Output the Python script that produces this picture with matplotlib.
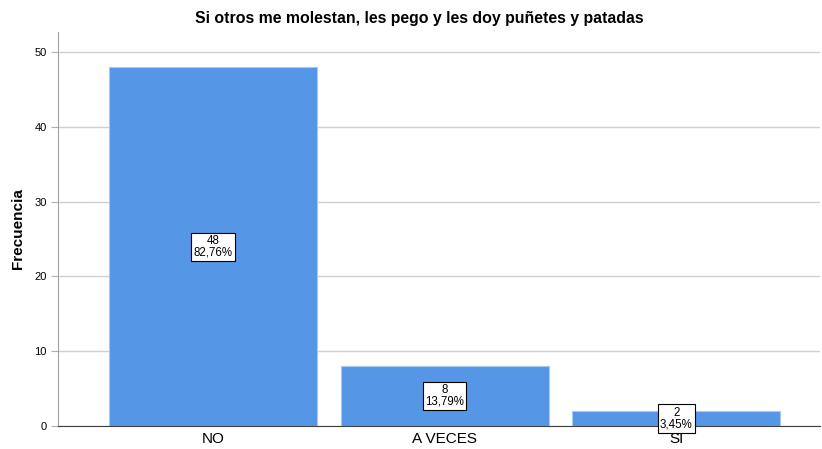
import matplotlib.pyplot as plt

# Data
categories = ["NO", "A VECES", "SI"]
counts = [48, 8, 2]
percents = ["82,76%", "13,79%", "3,45%"]

TITLE = "Si otros me molestan, les pego y les doy puñetes y patadas"
BAR_COLOR = "#5596e6"

plt.rcParams["font.family"] = ["Liberation Sans", "DejaVu Sans"]

fig = plt.figure(figsize=(8.22, 4.49), dpi=100)
ax = fig.add_axes([0.0706, 0.0512, 0.927, 0.8775])

x = list(range(len(categories)))
bars = ax.bar(x, counts, width=0.897, color=BAR_COLOR,
              edgecolor="#a9c8f0", linewidth=0.8, zorder=2)

for bar, n, pct in zip(bars, counts, percents):
    ax.text(bar.get_x() + bar.get_width() / 2, bar.get_height() / 2,
            f"{n}\n{pct}", ha="center", va="center", fontsize=8.3,
            linespacing=0.95, zorder=4,
            bbox=dict(boxstyle="square,pad=0.2", fc="white",
                      ec="black", lw=0.8))

ax.set_xlim(-0.668, 2.62)
ax.set_ylim(0, 52.7)
ax.set_yticks([0, 10, 20, 30, 40, 50])
ax.set_xticks(x)
ax.set_xticklabels(categories, fontsize=11)
ax.tick_params(axis="x", length=0, pad=4)
ax.tick_params(axis="y", labelsize=8, length=5, color="#b0b0b0", pad=3)
ax.grid(True, axis="y", color="#d0d0d0", lw=1, zorder=0)

for side in ("top", "right"):
    ax.spines[side].set_visible(False)
ax.spines["left"].set_color("#a0a0a0")
ax.spines["bottom"].set_color("#404040")

ax.set_ylabel("Frecuencia", fontsize=11, fontweight="bold", labelpad=7)
fig.suptitle(TITLE, x=0.51, y=0.975, fontsize=11.4, fontweight="bold")

fig.savefig("out.png", dpi=100)
